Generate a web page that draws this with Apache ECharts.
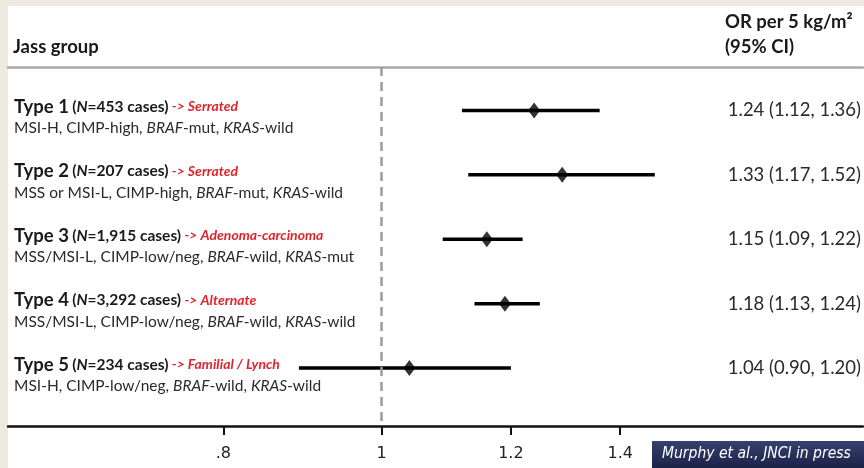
<!DOCTYPE html>
<html>
<head>
<meta charset="utf-8">
<script src="https://cdn.jsdelivr.net/npm/echarts@6/dist/echarts.min.js"></script>
<style>
html,body{margin:0;padding:0;background:#fff;}
#chart{width:864px;height:468px;}
</style>
</head>
<body>
<div id="chart"></div>
<script>
// ---- data ----
const groups = ['Type 1', 'Type 2', 'Type 3', 'Type 4', 'Type 5'];
const cases = ['453', '207', '1,915', '3,292', '234'];
const pathways = ['Serrated', 'Serrated', 'Adenoma-carcinoma', 'Alternate', 'Familial / Lynch'];
const msiStatus = ['MSI-H', 'MSS or MSI-L', 'MSS/MSI-L', 'MSS/MSI-L', 'MSI-H'];
const cimpStatus = ['CIMP-high', 'CIMP-high', 'CIMP-low/neg', 'CIMP-low/neg', 'CIMP-low/neg'];
const brafStatus = ['mut', 'mut', 'wild', 'wild', 'wild'];
const krasStatus = ['wild', 'wild', 'mut', 'wild', 'wild'];
// plotted odds ratios and CI bounds (as drawn in the figure)
const orValues = [1.24, 1.29, 1.16, 1.19, 1.04];
const ciLow = [1.12, 1.13, 1.09, 1.14, 0.89];
const ciHigh = [1.36, 1.47, 1.22, 1.25, 1.20];
// printed estimates
const ciLabels = ['1.24 (1.12, 1.36)', '1.33 (1.17, 1.52)', '1.15 (1.09, 1.22)', '1.18 (1.13, 1.24)', '1.04 (0.90, 1.20)'];
const xTicks = [0.8, 1, 1.2, 1.4];
const rowIndex = groups.map((g, i) => i + 1);

const chart = echarts.init(document.getElementById('chart'), null, {renderer: 'canvas'});
const FONT = 'Lato, "Open Sans", sans-serif';

function leftLabel(v) {
  const i = Math.round(v) - 1;
  if (i < 0 || i >= groups.length) return '';
  return '{t|' + groups[i] + '} {p|(}{n|N}{p|=' + cases[i] + ' cases)} {r|-> ' + pathways[i] + '}\n' +
    '{s|' + msiStatus[i] + ', ' + cimpStatus[i] + ', }{si|BRAF}{s|-' + brafStatus[i] + ', }{si|KRAS}{s|-' + krasStatus[i] + '}';
}

const option = {
  backgroundColor: '#ffffff',
  animation: false,
  grid: {left: 8, right: 0, top: 67, bottom: 42, containLabel: false},
  xAxis: [{
    type: 'log',
    min: 0.5905,
    max: 1.9716,
    position: 'bottom',
    axisLine: {show: true, lineStyle: {color: '#111', width: 2.5}},
    axisTick: {show: true, customValues: xTicks, length: 9, lineStyle: {color: '#111', width: 2}},
    axisLabel: {
      show: true, customValues: xTicks, margin: 20,
      color: '#222', fontFamily: '"DejaVu Sans", sans-serif', fontSize: 16,
      formatter: v => (v < 1 ? '.' + Math.round(v * 10) : String(+(+v).toFixed(1)))
    },
    splitLine: {show: false}
  }, {
    type: 'value',
    position: 'top',
    axisLine: {show: true, lineStyle: {color: '#a9a9a9', width: 2.5}},
    axisTick: {show: false},
    axisLabel: {show: false},
    splitLine: {show: false}
  }],
  yAxis: [{
    type: 'value',
    inverse: true,
    min: 0.325,
    max: 5.9,
    position: 'left',
    axisLine: {show: false},
    axisTick: {show: false},
    splitLine: {show: false},
    axisLabel: {
      show: true, inside: true, margin: 6, customValues: rowIndex,
      formatter: leftLabel,
      padding: [14, 0, 0, 0],
      rich: {
        t: {fontFamily: FONT, fontWeight: 'bold', fontSize: 18.5, color: '#1a1a1a', lineHeight: 22},
        p: {fontFamily: FONT, fontWeight: 'bold', fontSize: 15.5, color: '#1a1a1a', lineHeight: 22},
        n: {fontFamily: FONT, fontWeight: 'bold', fontStyle: 'italic', fontSize: 15.5, color: '#1a1a1a', lineHeight: 22},
        r: {fontFamily: FONT, fontWeight: 'bold', fontStyle: 'italic', fontSize: 14, color: '#e0242b', lineHeight: 22},
        s: {fontFamily: FONT, fontSize: 15.5, color: '#2a2a2a', lineHeight: 21},
        si: {fontFamily: FONT, fontStyle: 'italic', fontSize: 15.5, color: '#2a2a2a', lineHeight: 21}
      }
    }
  }, {
    type: 'value',
    inverse: true,
    min: 0.325,
    max: 5.9,
    position: 'right',
    axisLine: {show: false},
    axisTick: {show: false},
    splitLine: {show: false},
    axisLabel: {
      show: true, inside: true, margin: 2, customValues: rowIndex,
      formatter: v => { const i = Math.round(v) - 1; return ciLabels[i] || ''; },
      fontFamily: FONT, fontSize: 18.5, color: '#2a2a2a'
    }
  }],
  series: [{
    type: 'custom',
    xAxisIndex: 0, yAxisIndex: 0,
    encode: {x: [1, 2], y: 0},
    data: rowIndex.map((r, i) => [r, ciLow[i], ciHigh[i]]),
    renderItem: function (params, api) {
      const y = api.value(0);
      const a = api.coord([api.value(1), y]);
      const b = api.coord([api.value(2), y]);
      return {type: 'line', shape: {x1: a[0], y1: a[1], x2: b[0], y2: b[1]}, style: {stroke: '#000', lineWidth: 3.5}};
    },
    z: 3
  }, {
    type: 'scatter',
    xAxisIndex: 0, yAxisIndex: 0,
    symbol: 'diamond',
    symbolSize: [12, 16],
    itemStyle: {color: '#000'},
    data: rowIndex.map((r, i) => [orValues[i], r]),
    z: 4,
    markLine: {
      silent: true,
      symbol: 'none',
      label: {show: false},
      lineStyle: {color: '#9c9c9c', width: 2.5, type: [9, 6]},
      data: [{xAxis: 1}]
    }
  }],
  graphic: [
    {type: 'rect', left: 0, top: 0, shape: {width: 864, height: 6}, style: {fill: '#edeadf'}, silent: true},
    {type: 'rect', left: 0, top: 0, shape: {width: 8, height: 468}, style: {fill: '#edeadf'}, silent: true},
    {type: 'text', left: 13, top: 38, style: {text: 'Jass group', fill: '#1a1a1a', font: 'bold 18.5px ' + FONT}},
    {type: 'text', left: 725, top: 13, style: {text: 'OR per 5 kg/m²', fill: '#1a1a1a', font: 'bold 18.5px ' + FONT}},
    {type: 'text', left: 725, top: 38, style: {text: '(95% CI)', fill: '#1a1a1a', font: 'bold 18.5px ' + FONT}},
    {type: 'rect', left: 652, top: 441, shape: {width: 212, height: 27},
      style: {fill: new echarts.graphic.LinearGradient(0, 0, 0, 1, [{offset: 0, color: '#37416f'}, {offset: 1, color: '#1b2247'}])}, silent: true},
    {type: 'text', left: 662, top: 446, style: {text: 'Murphy et al., JNCI in press', fill: '#ffffff', font: 'italic 15.5px "DejaVu Sans Condensed", "DejaVu Sans", sans-serif'}}
  ]
};
chart.setOption(option);
</script>
</body>
</html>
